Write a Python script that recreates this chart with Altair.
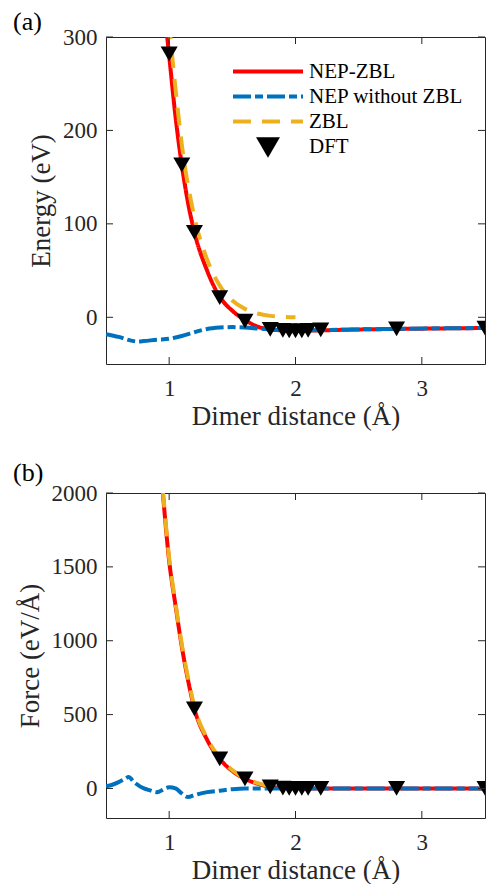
import altair as alt
import pandas as pd

SERIES = ["NEP-ZBL", "NEP without ZBL", "ZBL", "DFT"]
COLORS = ["#FF0000", "#0072BD", "#EDB120", "#000000"]
DASHES = [[1, 0], [18, 4, 8, 4], [18, 11], [1, 0]]
SHAPES = ["stroke", "stroke", "stroke", "triangle-down"]
SIZES = [4900, 4900, 4900, 290]

X_TICKS = [1, 2, 3]
E_TICKS = [0, 100, 200, 300]
F_TICKS = [0, 500, 1000, 1500, 2000]

# ---- panel (a): energy ----
dft_x_e = [1.0, 1.1, 1.2, 1.4, 1.6, 1.8, 1.9, 1.95, 2.0, 2.05, 2.1, 2.2, 2.8, 3.5]
dft_e = [282, 163, 91, 21, -4, -13, -14, -14.5, -14.5, -14.5, -14, -13.5, -12.5, -11.5]

nepzbl_x_e = [0.95, 1.0, 1.05, 1.1, 1.15, 1.2, 1.3, 1.4, 1.5, 1.6, 1.7, 1.8, 1.9, 2.0, 2.2, 2.5, 2.8, 3.1, 3.5]
nepzbl_e = [345, 280, 215, 163, 122, 91, 50, 22, 7, -3, -10, -13, -14, -14.5, -14, -13, -12.5, -12, -11.5]

zbl_x_e = [0.95, 1.0, 1.05, 1.1, 1.2, 1.3, 1.4, 1.5, 1.6, 1.7, 1.8, 1.9, 2.0]
zbl_e = [410, 315, 245, 185, 107, 62, 34, 18, 9, 4, 1.5, 0.5, 0]

nep_x_e = [0.5, 0.6, 0.7, 0.75, 0.8, 0.9, 1.0, 1.1, 1.2, 1.3, 1.4, 1.5, 1.6, 1.7, 1.8, 2.0, 2.5, 3.0, 3.5]
nep_e = [-18, -21, -25, -26, -25.5, -24, -23, -20, -16, -12.5, -11, -10.5, -11, -12, -13, -14, -13, -12, -11.5]

# ---- panel (b): force ----
dft_x_f = [1.2, 1.4, 1.6, 1.8, 1.9, 1.95, 2.0, 2.05, 2.1, 2.2, 2.8, 3.5]
dft_f = [539, 200, 65, 10, 2, 0, 0, 0, 0, 0, 0, 0]

nepzbl_x_f = [0.93, 0.95, 1.0, 1.05, 1.1, 1.15, 1.2, 1.3, 1.4, 1.5, 1.6, 1.7, 1.8, 1.9, 2.0, 2.2, 2.5, 3.0, 3.5]
nepzbl_f = [2200, 2000, 1540, 1240, 960, 730, 540, 330, 200, 118, 65, 32, 12, 4, 1, 0, 0, 0, 0]

zbl_x_f = [0.93, 0.95, 1.0, 1.05, 1.1, 1.15, 1.2, 1.3, 1.4, 1.5, 1.6, 1.7, 1.8, 1.9, 2.0]
zbl_f = [2220, 2020, 1560, 1255, 975, 745, 552, 340, 208, 124, 70, 36, 15, 4, 0]

nep_x_f = [0.5, 0.55, 0.6, 0.65, 0.68, 0.72, 0.8, 0.85, 0.9, 1.0, 1.05, 1.1, 1.15, 1.2, 1.3, 1.4, 1.5, 1.6, 1.8, 2.0, 2.5, 3.0, 3.5]
nep_f = [15, 25, 43, 65, 78, 45, 0, -13, -25, 8, 0, -33, -58, -45, -25, -15, -5, 0, 0, 0, 0, 0, 0]

FONT = "Liberation Serif, Times New Roman, serif"
AX = "#262626"
W = 379
TL = 7  # inner tick length


def lines_df(xs_list, ys_list):
    rows = []
    for name, xs, ys in zip(SERIES[:3], xs_list, ys_list):
        for x, y in zip(xs, ys):
            rows.append({"series": name, "x": x, "y": y})
    return pd.DataFrame(rows)


def panel(ldf, pdf, ydom, yticks, ytitle, label, H, legend, toff):
    xs = alt.Scale(domain=[0.5, 3.5], nice=False, zero=False)
    ys = alt.Scale(domain=ydom, nice=False, zero=False)
    leg = None
    if legend:
        leg = alt.Legend(
            orient="none", legendX=125, legendY=22, title=None,
            labelFont=FONT, labelFontSize=21, labelColor="black",
            clipHeight=25, rowPadding=0, symbolStrokeWidth=4,
            labelOffset=4, padding=0, symbolOpacity=1,
        )
    cscale = alt.Scale(domain=SERIES, range=COLORS)
    dscale = alt.Scale(domain=SERIES, range=DASHES)
    shscale = alt.Scale(domain=SERIES, range=SHAPES)
    szscale = alt.Scale(type="ordinal", domain=SERIES, range=SIZES)

    xaxis = alt.Axis(values=X_TICKS, ticks=False, tickSize=0, domain=False, grid=False,
                     labelFont=FONT, labelFontSize=23, labelColor=AX, labelPadding=13,
                     title="Dimer distance (Å)", titleFont=FONT, titleFontSize=27,
                     titleFontWeight="normal", titleColor=AX, titlePadding=3, format="d")
    yaxis = alt.Axis(values=yticks, ticks=False, tickSize=0, domain=False, grid=False,
                     labelFont=FONT, labelFontSize=23, labelColor=AX, labelPadding=9,
                     title=ytitle, titleFont=FONT, titleFontSize=27,
                     titleFontWeight="normal", titleColor=AX, titlePadding=7, format="d")

    lines = alt.Chart(ldf).mark_line(clip=True, strokeWidth=4, interpolate="monotone").encode(
        x=alt.X("x:Q", scale=xs, axis=xaxis),
        y=alt.Y("y:Q", scale=ys, axis=yaxis),
        color=alt.Color("series:N", scale=cscale, legend=leg, sort=SERIES),
        strokeDash=alt.StrokeDash("series:N", scale=dscale, legend=leg, sort=SERIES),
    )
    pts = alt.Chart(pdf).mark_point(filled=True, clip=True, opacity=1).encode(
        x=alt.X("x:Q", scale=xs),
        y=alt.Y("y:Q", scale=ys),
        color=alt.Color("series:N", scale=cscale, legend=leg, sort=SERIES),
        shape=alt.Shape("series:N", scale=shscale, legend=leg, sort=SERIES),
        size=alt.Size("series:N", scale=szscale, legend=leg, sort=SERIES),
    )
    xt = pd.DataFrame({"x": X_TICKS})
    yt = pd.DataFrame({"y": yticks})
    tb = alt.Chart(xt).mark_rule(color=AX, strokeWidth=1).encode(
        x=alt.X("x:Q", scale=xs), y=alt.value(H), y2=alt.value(H - TL))
    tt = alt.Chart(xt).mark_rule(color=AX, strokeWidth=1).encode(
        x=alt.X("x:Q", scale=xs), y=alt.value(0), y2=alt.value(TL))
    tl = alt.Chart(yt).mark_rule(color=AX, strokeWidth=1).encode(
        y=alt.Y("y:Q", scale=ys), x=alt.value(0), x2=alt.value(TL))
    tr = alt.Chart(yt).mark_rule(color=AX, strokeWidth=1).encode(
        y=alt.Y("y:Q", scale=ys), x=alt.value(W), x2=alt.value(W - TL))

    return alt.layer(lines, pts, tb, tt, tl, tr).properties(
        width=W, height=H,
        title=alt.TitleParams(text=label, anchor="start", frame="group", dx=-93, offset=toff,
                              font=FONT, fontSize=26, fontWeight="normal", color="black"),
    )


lda = lines_df([nepzbl_x_e, nep_x_e, zbl_x_e], [nepzbl_e, nep_e, zbl_e])
pda = pd.DataFrame({"series": "DFT", "x": dft_x_e, "y": dft_e})
ldb = lines_df([nepzbl_x_f, nep_x_f, zbl_x_f], [nepzbl_f, nep_f, zbl_f])
pdb = pd.DataFrame({"series": "DFT", "x": dft_x_f, "y": dft_f})

pa = panel(lda, pda, [-50, 300], E_TICKS, "Energy (eV)", "(a)", 327, True, -9)
pb = panel(ldb, pdb, [-200, 2000], F_TICKS, "Force (eV/Å)", "(b)", 325, False, -4)

chart = alt.vconcat(pa, pb, spacing=29).resolve_scale(
    color="independent", strokeDash="independent", shape="independent", size="independent"
).properties(
    padding={"left": 12, "top": 8, "right": 0, "bottom": 0},
    background="white",
).configure_view(stroke=AX, strokeWidth=1)

chart.save("out.html", embed_options={"renderer": "svg", "actions": False})
